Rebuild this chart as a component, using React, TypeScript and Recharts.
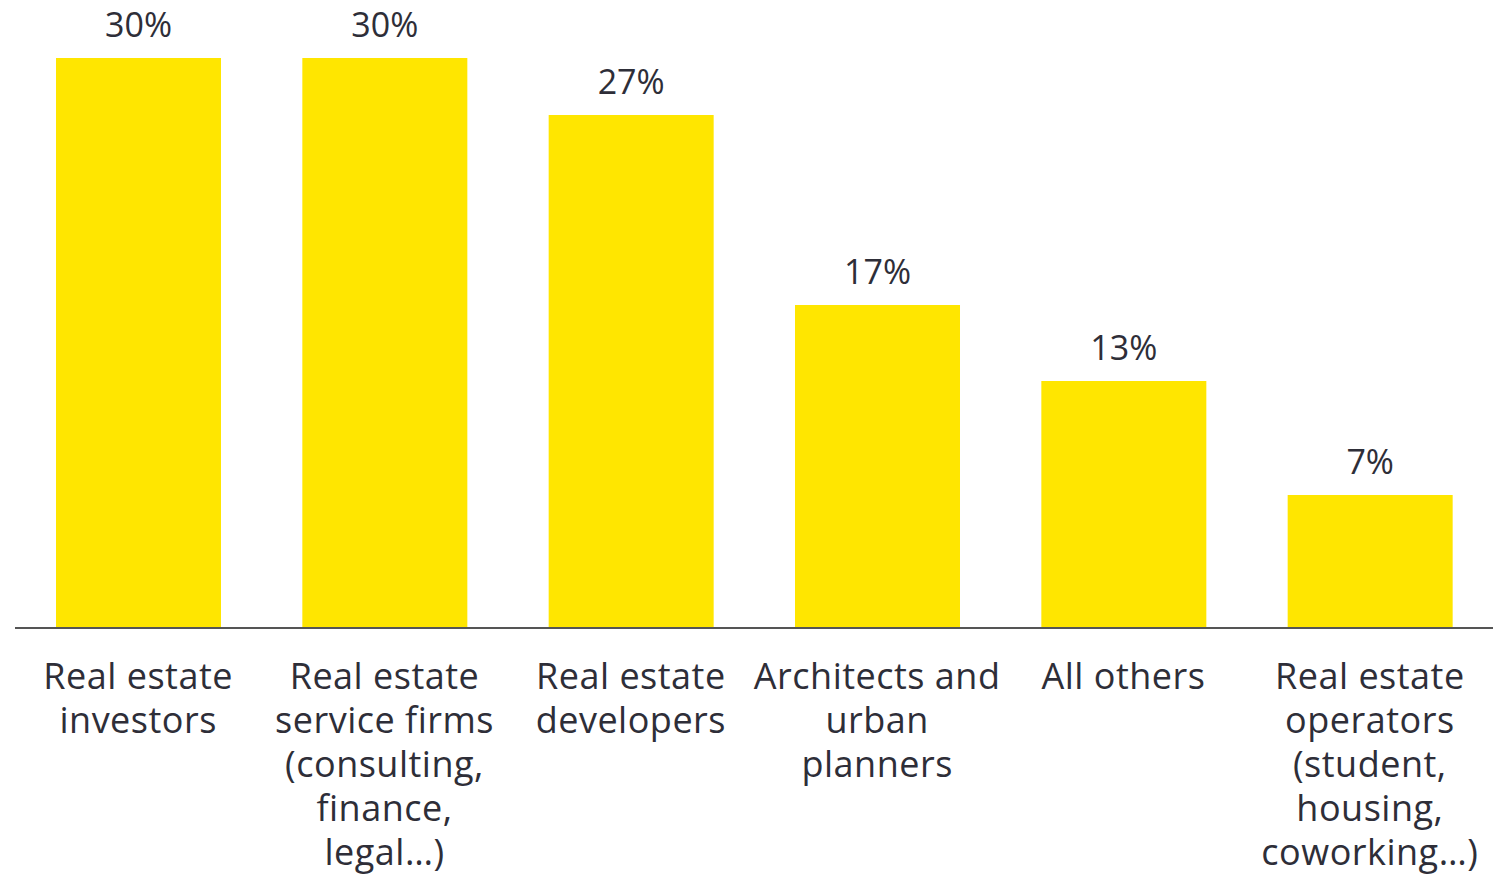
import { BarChart, Bar, XAxis, YAxis, LabelList } from 'recharts';

// survey respondents by profile, share in %
const categories = [
  'Real estate\ninvestors',
  'Real estate\nservice firms\n(consulting,\nfinance,\nlegal…)',
  'Real estate\ndevelopers',
  'Architects and\nurban\nplanners',
  'All others',
  'Real estate\noperators\n(student,\nhousing,\ncoworking…)',
];
const shares = [30, 30, 27, 17, 13, 7];

const data = categories.map((name, i) => ({ name, value: shares[i] }));

const TEXT = '#2E2E38';
const FONT = '"Open Sans", sans-serif';

function CategoryTick(props: any) {
  const { x, y, payload } = props;
  const lines = String(payload.value).split('\n');
  return (
    <text
      x={x}
      y={y}
      textAnchor="middle"
      fill={TEXT}
      fontSize={36}
      letterSpacing={0.5}
      fontFamily={FONT}
    >
      {lines.map((line, i) => (
        <tspan key={i} x={x} y={y + 61 + i * 44}>
          {line}
        </tspan>
      ))}
    </text>
  );
}

export default function App() {
  return (
    <div style={{ position: 'absolute', left: 0, top: 0, background: '#fff' }}>
      <BarChart
        width={1495}
        height={874}
        data={data}
        margin={{ top: 58, right: 2, bottom: 0, left: 15 }}
      >
        <XAxis
          dataKey="name"
          height={246}
          interval={0}
          tickLine={false}
          tickSize={0}
          tickMargin={0}
          axisLine={{ stroke: '#555', strokeWidth: 2 }}
          tick={<CategoryTick />}
        />
        <YAxis hide domain={[0, 30]} />
        <Bar dataKey="value" fill="#FFE600" barSize={165} isAnimationActive={false}>
          <LabelList
            dataKey="value"
            position="top"
            offset={21}
            formatter={(v: any) => `${v}%`}
            fill={TEXT}
            fontSize={34}
            fontFamily={FONT}
          />
        </Bar>
      </BarChart>
    </div>
  );
}
